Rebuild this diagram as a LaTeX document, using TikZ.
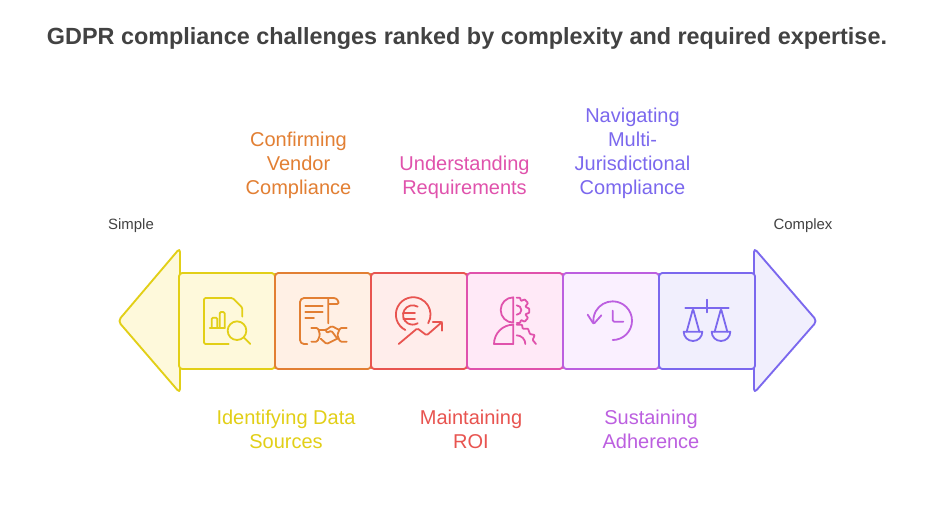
\documentclass[tikz,border=0pt]{standalone}
\usepackage{fontspec}
\setmainfont{Liberation Sans}
\definecolor{cY}{HTML}{E2CF17}\definecolor{fY}{HTML}{FEF9DB}
\definecolor{cO}{HTML}{E27F33}\definecolor{fO}{HTML}{FFF0E5}
\definecolor{cR}{HTML}{E85450}\definecolor{fR}{HTML}{FFEDEB}
\definecolor{cP}{HTML}{E052AC}\definecolor{fP}{HTML}{FFE9F7}
\definecolor{cU}{HTML}{BC5FE0}\definecolor{fU}{HTML}{FAF0FF}
\definecolor{cV}{HTML}{7B68EE}\definecolor{fV}{HTML}{F1EFFD}
\definecolor{cT}{HTML}{424242}
\tikzset{
 cell/.style={draw=#1,line width=1.4pt,rounded corners=2.5pt,minimum width=72pt,minimum height=72pt,inner sep=0pt,outer sep=0pt},
 head/.style={line width=1.4pt,rounded corners=3pt,line join=round},
 lab/.style={text=#1,font=\fontsize{15pt}{18pt}\selectfont,align=center,inner sep=0pt},
 note/.style={text=cT,font=\fontsize{11.2pt}{13pt}\selectfont,inner sep=0pt},
 ico/.style={line width=1.35pt,draw=#1,line cap=round,line join=round,rounded corners=1pt,fill=none}
}
\begin{document}
\begin{tikzpicture}[x=0.75pt,y=-0.75pt]
\useasboundingbox (0,0) rectangle (934,512);
\fill[white] (0,0) rectangle (934,512);
\node[text=cT,font=\bfseries\fontsize{17.55pt}{22pt}\selectfont,inner sep=0pt] (title) at (467,38.5) {GDPR compliance challenges ranked by complexity and required expertise.};
\node[note] (simple) at (131,225.5) {Simple};
\node[note] (complex) at (803,225.5) {Complex};
% arrow heads
\path[head,draw=cY,fill=fY] (180,248) -- (118,321) -- (180,393) -- cycle;
\path[head,draw=cV,fill=fV] (754,248) -- (817,321) -- (754,393) -- cycle;
% cells
\node[cell=cY,fill=fY] (c1) at (227,321) {};
\node[cell=cO,fill=fO] (c2) at (323,321) {};
\node[cell=cR,fill=fR] (c3) at (419,321) {};
\node[cell=cP,fill=fP] (c4) at (515,321) {};
\node[cell=cU,fill=fU] (c5) at (611,321) {};
\node[cell=cV,fill=fV] (c6) at (707,321) {};
% labels
\node[lab=cY] (l1) at (286,429.5) {Identifying Data\\Sources};
\node[lab=cO] (l2) at (298.5,165.5) {Confirming\\Vendor\\Compliance};
\node[lab=cR] (l3) at (471,429.5) {Maintaining\\ROI};
\node[lab=cP] (l4) at (464.5,177.5) {Understanding\\Requirements};
\node[lab=cU] (l5) at (651,429.5) {Sustaining\\Adherence};
\node[lab=cV] (l6) at (632.5,153.5) {Navigating\\Multi-\\Jurisdictional\\Compliance};
% icon 1
\begin{scope}[shift={(110,240)},x=0.25pt,y=-0.25pt]
\draw[ico=cY] (356,312) -- (282,312) -- (282,174) -- (368,174) -- (397,203) -- (397,230);
\draw[ico=cY] (299,264) -- (345,264) (305,264) -- (305,233) -- (322,233) -- (322,264) (329,264) -- (329,216) -- (344,216) -- (344,264);
\draw[ico=cY,rounded corners=0pt] (381,272) circle[radius=28];
\draw[ico=cY] (401,292) -- (421,312);
\end{scope}
% icon 2
\begin{scope}[shift={(110,240)},x=0.25pt,y=-0.25pt]
\draw[ico=cO,rounded corners=3pt] (592,312) -- (570,312) -- (570,174) -- (672,174);
\draw[ico=cO] (655,250) -- (655,174) (670,174) .. controls (680,174) and (686,182) .. (686,192) -- (655,192);
\draw[ico=cO] (586,198) -- (638,198) (586,215) -- (638,215) (586,233) -- (612,233);
\draw[ico=cO] (604,264) -- (624,264) -- (630,285) -- (622,305) -- (604,305);
\draw[ico=cO] (710,264) -- (690,264) -- (682,285) -- (690,305) -- (710,305);
\draw[ico=cO] (626,270) -- (648,270) -- (665,258) -- (688,270);
\draw[ico=cO] (632,296) -- (650,312) -- (682,296);
\draw[ico=cO] (648,270) -- (650,279) -- (664,272) -- (682,296);
\end{scope}
% icon 3
\begin{scope}[shift={(370,260)},x=0.25pt,y=-0.25pt]
\draw[ico=cR,rounded corners=0pt] (106,210) arc[start angle=243,end angle=-30,radius=13pt];
\draw[ico=cR,rounded corners=0pt] (143,140) arc[start angle=59,end angle=301,radius=7.25pt];
\draw[ico=cR] (100,160) -- (135,160) (100,176) -- (135,176);
\draw[ico=cR] (86,252) -- (142,205) -- (170,226) -- (216,186);
\draw[ico=cR] (188,186) -- (216,186) -- (216,212);
\end{scope}
% icon 4
\begin{scope}[shift={(370,260)},x=0.25pt,y=-0.25pt]
\draw[ico=cP,rounded corners=0pt] (430,112) arc[start angle=90,end angle=270,radius=9.5pt] -- cycle;
\draw[ico=cP,rounded corners=0pt] (430,194) arc[start angle=90,end angle=180,radius=14.5pt] -- (430,252) -- cycle;
\draw[ico=cP,rounded corners=0pt] (440,136) arc[start angle=90,end angle=-90,radius=3.5pt];
\draw[ico=cP,rounded corners=0pt] (440,226) arc[start angle=90,end angle=0,radius=6.5pt];
\draw[ico=cP,rounded corners=.5pt] (440,113) -- (450,113) -- (453,123) -- (464,118) -- (474,129) -- (466,140) -- (478,146) -- (478,158) -- (466,163) -- (474,174) -- (464,185) -- (453,180) -- (450,189) -- (440,189);
\draw[ico=cP,rounded corners=.5pt] (440,194) -- (456,194) -- (458,206) -- (474,206) -- (480,222) -- (494,225) -- (488,240) -- (498,252);
\end{scope}
% icon 5
\begin{scope}[shift={(560,240)},x=0.25pt,y=-0.25pt]
\draw[ico=cU,rounded corners=0pt] (158,300) arc[start angle=-90,end angle=188,radius=14.5pt];
\draw[ico=cU] (83,224) -- (101,252) -- (124,226);
\draw[ico=cU] (158,212) -- (158,245) -- (190,245);
\end{scope}
% icon 6
\begin{scope}[shift={(560,240)},x=0.25pt,y=-0.25pt]
\draw[ico=cV] (376,203) -- (506,203) (441,179) -- (441,217);
\draw[ico=cV] (380,275) -- (399,206) -- (418,275) (464,275) -- (483,206) -- (502,275);
\draw[ico=cV,rounded corners=0pt] (371,275) -- (427,275) arc[start angle=0,end angle=-180,radius=7pt] -- cycle;
\draw[ico=cV,rounded corners=0pt] (455,275) -- (511,275) arc[start angle=0,end angle=-180,radius=7pt] -- cycle;
\end{scope}
\end{tikzpicture}
\end{document}
